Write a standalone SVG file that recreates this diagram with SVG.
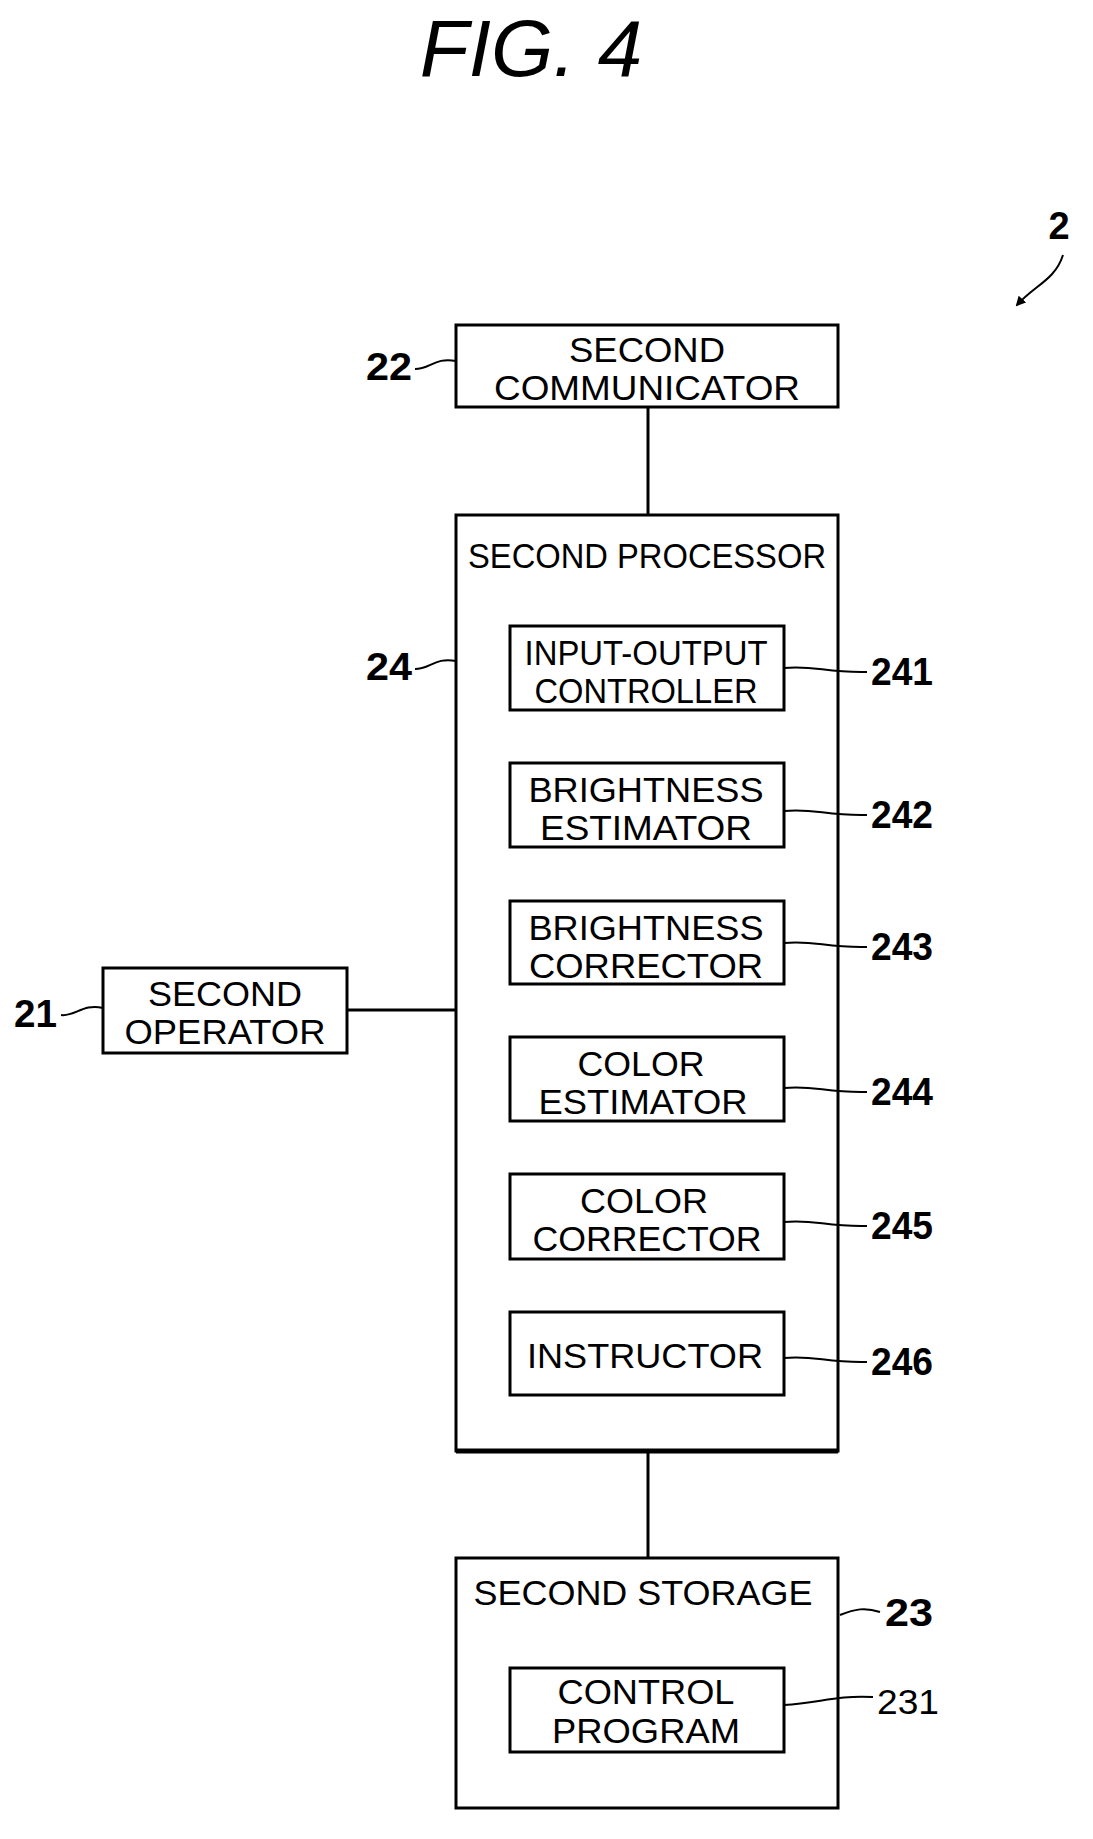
<svg xmlns="http://www.w3.org/2000/svg" width="1093" height="1839" viewBox="0 0 1093 1839">
<style>
.b{fill:#fff;stroke:#000;stroke-width:3}
.t{font-family:"Liberation Sans",Arial,sans-serif;font-size:35px;fill:#000}
.n{font-family:"Liberation Sans",Arial,sans-serif;font-size:38px;font-weight:bold;fill:#000}
.l{fill:none;stroke:#000;stroke-width:2}
.c{fill:none;stroke:#000;stroke-width:3}
</style>
<defs><marker id="ah" markerWidth="10" markerHeight="10" refX="8" refY="5" orient="auto" markerUnits="userSpaceOnUse"><path d="M0,0 L10,5 L0,10 z" fill="#000"/></marker></defs>
<rect width="1093" height="1839" fill="#fff"/>
<text x="531" y="76" text-anchor="middle" font-family="Liberation Sans,Arial,sans-serif" font-size="80" font-style="italic">FIG. 4</text>
<g transform="translate(5,5)">
<g id="ref2"><text class="n" x="1054" y="234" text-anchor="middle">2</text><path class="l" d="M1058,250 C1050,275 1030,280 1012,300" marker-end="url(#ah)" stroke-width="2.5"/></g>
<g id="connectors">
<line class="c" x1="643" y1="402" x2="643" y2="509"/>
<line class="c" x1="643" y1="1446" x2="643" y2="1553"/>
<line class="c" x1="342" y1="1005" x2="451" y2="1005"/>
</g>
<g id="n22"><rect class="b" x="451" y="320" width="382" height="82"/>
<text class="t" x="642" y="357" text-anchor="middle" textLength="156" lengthAdjust="spacingAndGlyphs">SECOND</text>
<text class="t" x="642" y="395" text-anchor="middle" textLength="306" lengthAdjust="spacingAndGlyphs">COMMUNICATOR</text>
<text class="n" x="407" y="375" text-anchor="end" textLength="46" lengthAdjust="spacingAndGlyphs">22</text>
<path class="l" d="M410,364 C425,364 430,352 451,356"/></g>
<g id="n24"><rect class="b" x="451" y="510" width="382" height="936"/>
<line x1="451" y1="1446" x2="833" y2="1446" stroke="#000" stroke-width="5"/>
<text class="t" x="642" y="563" text-anchor="middle" textLength="358" lengthAdjust="spacingAndGlyphs">SECOND PROCESSOR</text>
<text class="n" x="407" y="675" text-anchor="end" textLength="46" lengthAdjust="spacingAndGlyphs">24</text>
<path class="l" d="M410,664 C425,664 430,652 451,656"/></g>
<g id="n241"><rect class="b" x="505" y="621" width="274" height="84"/>
<text class="t" x="641" y="660" text-anchor="middle" textLength="243" lengthAdjust="spacingAndGlyphs">INPUT-OUTPUT</text>
<text class="t" x="641" y="698" text-anchor="middle" textLength="223" lengthAdjust="spacingAndGlyphs">CONTROLLER</text>
<path class="l" d="M779,663 C810,660 820,668 862,667"/>
<text class="n" x="866" y="680" textLength="62" lengthAdjust="spacingAndGlyphs">241</text></g>
<g id="n242"><rect class="b" x="505" y="758" width="274" height="84"/>
<text class="t" x="641" y="797" text-anchor="middle" textLength="235" lengthAdjust="spacingAndGlyphs">BRIGHTNESS</text>
<text class="t" x="641" y="835" text-anchor="middle" textLength="212" lengthAdjust="spacingAndGlyphs">ESTIMATOR</text>
<path class="l" d="M779,806 C810,803 820,811 862,810"/>
<text class="n" x="866" y="823" textLength="62" lengthAdjust="spacingAndGlyphs">242</text></g>
<g id="n243"><rect class="b" x="505" y="896" width="274" height="83"/>
<text class="t" x="641" y="935" text-anchor="middle" textLength="235" lengthAdjust="spacingAndGlyphs">BRIGHTNESS</text>
<text class="t" x="641" y="973" text-anchor="middle" textLength="234" lengthAdjust="spacingAndGlyphs">CORRECTOR</text>
<path class="l" d="M779,938 C810,935 820,943 862,942"/>
<text class="n" x="866" y="955" textLength="62" lengthAdjust="spacingAndGlyphs">243</text></g>
<g id="n244"><rect class="b" x="505" y="1032" width="274" height="84"/>
<text class="t" x="636" y="1071" text-anchor="middle" textLength="127" lengthAdjust="spacingAndGlyphs">COLOR</text>
<text class="t" x="638" y="1109" text-anchor="middle" textLength="209" lengthAdjust="spacingAndGlyphs">ESTIMATOR</text>
<path class="l" d="M779,1083 C810,1080 820,1088 862,1087"/>
<text class="n" x="866" y="1100" textLength="62" lengthAdjust="spacingAndGlyphs">244</text></g>
<g id="n245"><rect class="b" x="505" y="1169" width="274" height="85"/>
<text class="t" x="639" y="1208" text-anchor="middle" textLength="128" lengthAdjust="spacingAndGlyphs">COLOR</text>
<text class="t" x="642" y="1246" text-anchor="middle" textLength="229" lengthAdjust="spacingAndGlyphs">CORRECTOR</text>
<path class="l" d="M779,1217 C810,1214 820,1222 862,1221"/>
<text class="n" x="866" y="1234" textLength="62" lengthAdjust="spacingAndGlyphs">245</text></g>
<g id="n246"><rect class="b" x="505" y="1307" width="274" height="83"/>
<text class="t" x="640" y="1363" text-anchor="middle" textLength="236" lengthAdjust="spacingAndGlyphs">INSTRUCTOR</text>
<path class="l" d="M779,1353 C810,1350 820,1358 862,1357"/>
<text class="n" x="866" y="1370" textLength="62" lengthAdjust="spacingAndGlyphs">246</text></g>
<g id="n21"><rect class="b" x="98" y="963" width="244" height="85"/>
<text class="t" x="220" y="1001" text-anchor="middle" textLength="154" lengthAdjust="spacingAndGlyphs">SECOND</text>
<text class="t" x="220" y="1039" text-anchor="middle" textLength="201" lengthAdjust="spacingAndGlyphs">OPERATOR</text>
<text class="n" x="52" y="1022" text-anchor="end" textLength="43" lengthAdjust="spacingAndGlyphs">21</text>
<path class="l" d="M56,1010 C70,1012 78,998 98,1003"/></g>
<g id="n23"><rect class="b" x="451" y="1553" width="382" height="250"/>
<text class="t" x="638" y="1600" text-anchor="middle" textLength="339" lengthAdjust="spacingAndGlyphs">SECOND STORAGE</text>
<path class="l" d="M835,1610 C850,1604 860,1602 875,1607"/>
<text class="n" x="880" y="1621" textLength="48" lengthAdjust="spacingAndGlyphs">23</text></g>
<g id="n231"><rect class="b" x="505" y="1663" width="274" height="84"/>
<text class="t" x="641" y="1699" text-anchor="middle" textLength="177" lengthAdjust="spacingAndGlyphs">CONTROL</text>
<text class="t" x="641" y="1738" text-anchor="middle" textLength="188" lengthAdjust="spacingAndGlyphs">PROGRAM</text>
<path class="l" d="M779,1700 C815,1698 830,1690 868,1692"/>
<text class="t" x="872" y="1709" textLength="62" lengthAdjust="spacingAndGlyphs">231</text></g>
</g>
</svg>
